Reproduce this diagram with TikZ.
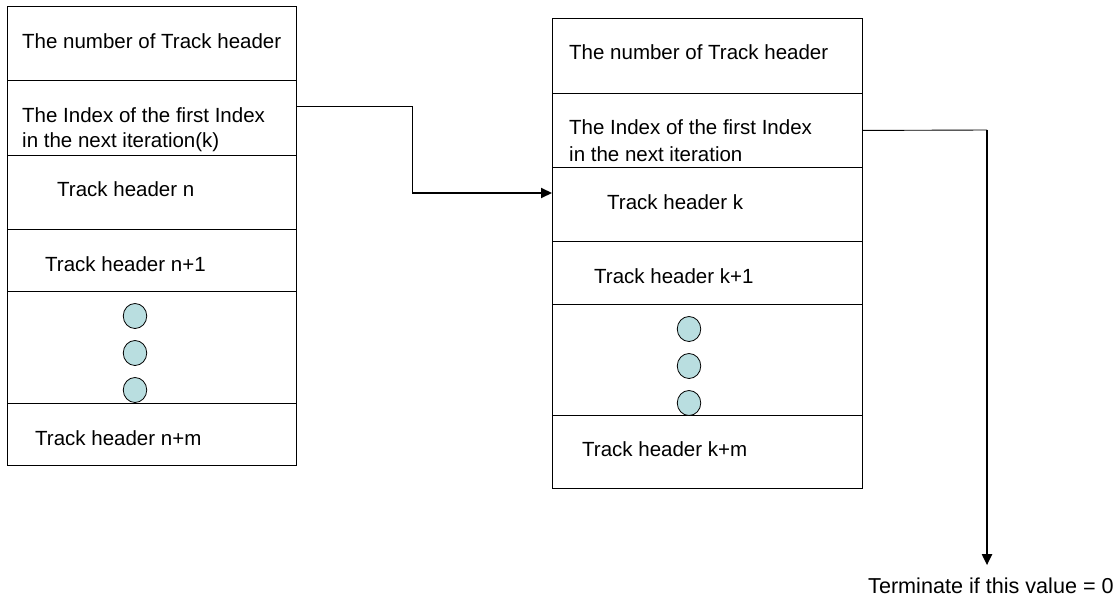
\documentclass[tikz,border=0pt]{standalone}
\usepackage{fontspec}
\setmainfont{Liberation Sans}
\usetikzlibrary{arrows.meta}
\definecolor{dotfill}{RGB}{185,222,224}
\tikzset{
  cell/.style={draw=black, line width=0.9pt, inner sep=0pt, anchor=north west, fill=white},
  lbl/.style={anchor=base west, inner sep=0pt, font=\fontsize{20.5}{25}\selectfont},
  dot/.style={draw=black, line width=0.8pt, fill=dotfill, ellipse, minimum width=23.5pt, minimum height=25pt, inner sep=0pt},
  thinline/.style={line width=0.9pt},
  thickline/.style={line width=2pt, -{Triangle[length=11pt,width=10pt]}}
}
\usetikzlibrary{shapes.geometric}
\begin{document}
\begin{tikzpicture}[x=1pt,y=-1pt]
\useasboundingbox (0,0) rectangle (1116,599);
% left stack
\node[cell, minimum width=289pt, minimum height=74pt] (L1) at (7,6) {};
\node[cell, minimum width=289pt, minimum height=75pt] (L2) at (7,80) {};
\node[cell, minimum width=289pt, minimum height=74pt] (L3) at (7,155) {};
\node[cell, minimum width=289pt, minimum height=62pt] (L4) at (7,229) {};
\node[cell, minimum width=289pt, minimum height=112pt] (L5) at (7,291) {};
\node[cell, minimum width=289pt, minimum height=62pt] (L6) at (7,403) {};
\node[lbl] (L1t) at (22,49) {The number of Track header};
\node[lbl] (L2t) at (22,122.7) {The Index of the first Index};
\node[lbl] (L2u) at (22,147.7) {in the next iteration(k)};
\node[lbl] (L3t) at (57,196.7) {Track header n};
\node[lbl] (L4t) at (45,271) {Track header n+1};
\node[lbl] (L6t) at (35,445) {Track header n+m};
\node[dot] (Ld1) at (135,316) {};
\node[dot] (Ld2) at (135,353) {};
\node[dot] (Ld3) at (135,390) {};
% right stack
\node[cell, minimum width=310pt, minimum height=75pt] (R1) at (552,18) {};
\node[cell, minimum width=310pt, minimum height=74pt] (R2) at (552,93) {};
\node[cell, minimum width=310pt, minimum height=74pt] (R3) at (552,167) {};
\node[cell, minimum width=310pt, minimum height=63pt] (R4) at (552,241) {};
\node[cell, minimum width=310pt, minimum height=111pt] (R5) at (552,304) {};
\node[cell, minimum width=310pt, minimum height=73pt] (R6) at (552,415) {};
\node[lbl] (R1t) at (569,60) {The number of Track header};
\node[lbl] (R2t) at (569,135) {The Index of the first Index};
\node[lbl] (R2u) at (569,161) {in the next iteration};
\node[lbl] (R3t) at (607,209) {Track header k};
\node[lbl] (R4t) at (594,283) {Track header k+1};
\node[lbl] (R6t) at (582,456.7) {Track header k+m};
\node[dot] (Rd1) at (689,329) {};
\node[dot] (Rd2) at (689,366) {};
\node[dot] (Rd3) at (689,403) {};
% terminate label
\node[lbl, font=\fontsize{21.6}{26}\selectfont] (T) at (868,593) {Terminate if this value = 0};
% connectors
\coordinate (e1) at (412,193);
\draw[thinline] ([yshift=11.5pt]L2.east) -| (e1);
\draw[thickline] (e1) -- (e1 -| R3.west);
\coordinate (e2) at (987,130);
\coordinate (tt) at ([yshift=12pt]T.north);
\draw[thinline] (R2.east) -- (e2);
\draw[thickline] (e2) -- (e2 |- tt);
\end{tikzpicture}
\end{document}
